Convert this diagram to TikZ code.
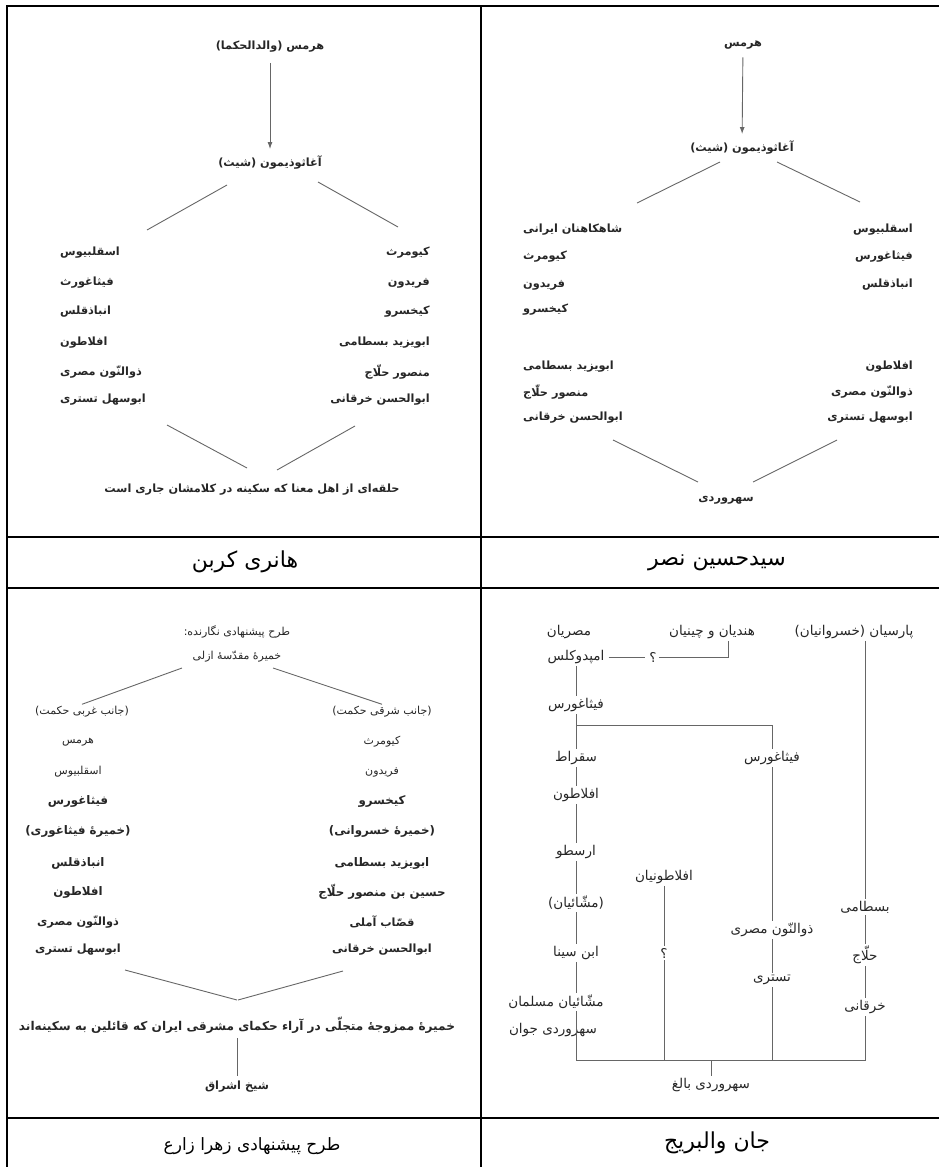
\documentclass[tikz,border=0pt]{standalone}
\usepackage{fontspec}
\usetikzlibrary{calc, arrows, arrows.meta, positioning}
\newfontfamily\arabicfont[Script=Arabic]{DejaVu Sans}
\TeXXeTstate=1
\newcommand{\fatext}[1]{{\arabicfont\beginR #1\endR}}

\begin{document}
\begin{tikzpicture}[x=1pt, y=-1pt,
  txt/.style={inner sep=2pt, text=black!85, font=\fontsize{13.5}{15}\selectfont},
  bd/.style={txt, font=\fontsize{11.3}{13}\selectfont\bfseries},
  sm/.style={txt, font=\fontsize{11}{13}\selectfont},
  big/.style={txt, font=\fontsize{11.8}{14}\selectfont\bfseries},
  captxt/.style={inner sep=2pt, text=black, font=\fontsize{22}{26}\selectfont},
  ln/.style={draw=black!60, line width=0.9pt},
  rule/.style={line width=1.6pt}]
  \useasboundingbox (0,0) rectangle (939,1167);

  % table
  \draw[rule] (7,1167) -- (7,6) -- (939,6);
  \draw[rule] (481,6) -- (481,1167);
  \draw[rule] (7,537) -- (939,537);
  \draw[rule] (7,588) -- (939,588);
  \draw[rule] (7,1118) -- (939,1118);

  % hanri korban
  \node[bd] (hermA) at (270,47) {\fatext{هرمس (والدالحکما)}};
  \node[bd] (aghaA) at (270,162) {\fatext{آغاثوذیمون (شیث)}};
  \draw[ln, -{Latex[length=7pt,width=5pt]}, shorten <=8pt, shorten >=4pt] (hermA) -- (aghaA);
  \coordinate (A-l) at (147,230);
  \coordinate (A-r) at (398,227);
  \draw[ln] ($(aghaA)+(-43,23)$) -- (A-l);
  \draw[ln] ($(aghaA)+(48,20)$) -- (A-r);

  \node[bd, anchor=west] (aL1) at (58,253) {\fatext{اسقلبیوس}};
  \node[bd, anchor=west] (aL2) at (58,283) {\fatext{فیثاغورث}};
  \node[bd, anchor=west] (aL3) at (58,312) {\fatext{انباذقلس}};
  \node[bd, anchor=west] (aL4) at (58,343) {\fatext{افلاطون}};
  \node[bd, anchor=west] (aL5) at (58,372) {\fatext{ذوالنّون مصری}};
  \node[bd, anchor=west] (aL6) at (58,400) {\fatext{ابوسهل تستری}};

  \node[bd, anchor=east] (aR1) at (432,253) {\fatext{کیومرث}};
  \node[bd, anchor=east] (aR2) at (432,283) {\fatext{فریدون}};
  \node[bd, anchor=east] (aR3) at (432,312) {\fatext{کیخسرو}};
  \node[bd, anchor=east] (aR4) at (432,343) {\fatext{ابویزید بسطامی}};
  \node[bd, anchor=east] (aR5) at (432,372) {\fatext{منصور حلّاج}};
  \node[bd, anchor=east] (aR6) at (432,400) {\fatext{ابوالحسن خرقانی}};

  \node[bd] (ringA) at (252,490) {\fatext{حلقه‌ای از اهل معنا که سکینه در کلامشان جاری است}};
  \coordinate (A-bl) at (167,425);
  \coordinate (A-br) at (355,426);
  \draw[ln] (A-bl) -- ($(ringA)+(-5,-22)$);
  \draw[ln] (A-br) -- ($(ringA)+(25,-20)$);
  \node[captxt] (capA) at (245,562) {\fatext{هانری کربن}};

  % seyyed hossein nasr
  \node[bd] (hermB) at (743,45) {\fatext{هرمس}};
  \node[bd] (aghaB) at (742,147) {\fatext{آغاثوذیمون (شیث)}};
  \draw[ln, -{Latex[length=7pt,width=5pt]}, shorten <=6pt, shorten >=4pt] (hermB) -- (aghaB);
  \coordinate (B-l) at (637,203);
  \coordinate (B-r) at (860,202);
  \draw[ln] ($(aghaB)+(-22,15)$) -- (B-l);
  \draw[ln] ($(aghaB)+(35,15)$) -- (B-r);

  \node[bd, anchor=west] (bL1) at (521,230) {\fatext{شاهکاهنان ایرانی}};
  \node[bd, anchor=west] (bL2) at (521,257) {\fatext{کیومرث}};
  \node[bd, anchor=west] (bL3) at (521,285) {\fatext{فریدون}};
  \node[bd, anchor=west] (bL4) at (521,310) {\fatext{کیخسرو}};
  \node[bd, anchor=west] (bL5) at (521,367) {\fatext{ابویزید بسطامی}};
  \node[bd, anchor=west] (bL6) at (521,392) {\fatext{منصور حلّاج}};
  \node[bd, anchor=west] (bL7) at (521,418) {\fatext{ابوالحسن خرقانی}};

  \node[bd, anchor=east] (bR1) at (915,230) {\fatext{اسقلبیوس}};
  \node[bd, anchor=east] (bR2) at (915,257) {\fatext{فیثاغورس}};
  \node[bd, anchor=east] (bR3) at (915,285) {\fatext{انباذقلس}};
  \node[bd, anchor=east] (bR4) at (915,367) {\fatext{افلاطون}};
  \node[bd, anchor=east] (bR5) at (915,392) {\fatext{ذوالنّون مصری}};
  \node[bd, anchor=east] (bR6) at (915,418) {\fatext{ابوسهل تستری}};

  \node[bd] (suhB) at (726,500) {\fatext{سهروردی}};
  \coordinate (B-bl) at (613,440);
  \coordinate (B-br) at (837,440);
  \draw[ln] (B-bl) -- ($(suhB)+(-28,-18)$);
  \draw[ln] (B-br) -- ($(suhB)+(27,-18)$);
  \node[captxt] (capB) at (717,563) {\fatext{سیدحسین نصر}};

  % zahra zare
  \node[sm] (titleC) at (237,632) {\fatext{طرح پیشنهادی نگارنده:}};
  \node[sm] (khamC) at (237,657) {\fatext{خمیرهٔ مقدّسهٔ ازلی}};
  \node[sm] (westC) at (82,712) {\fatext{(جانب غربی حکمت)}};
  \node[sm] (eastC) at (382,712) {\fatext{(جانب شرقی حکمت)}};
  \draw[ln] ($(khamC)+(-55,11)$) -- (westC.north);
  \draw[ln] ($(khamC)+(36,11)$) -- (eastC.north);

  \node[sm] (cL1) at (78,742) {\fatext{هرمس}};
  \node[sm] (cL2) at (78,772) {\fatext{اسقلبیوس}};
  \node[big] (cL3) at (78,801) {\fatext{فیثاغورس}};
  \node[big] (cL4) at (78,831) {\fatext{(خمیرهٔ فیثاغوری)}};
  \node[big] (cL5) at (78,863) {\fatext{انباذقلس}};
  \node[big] (cL6) at (78,892) {\fatext{افلاطون}};
  \node[bd] (cL7) at (78,922) {\fatext{ذوالنّون مصری}};
  \node[bd] (cL8) at (78,950) {\fatext{ابوسهل تستری}};

  \node[sm] (cR1) at (382,742) {\fatext{کیومرث}};
  \node[sm] (cR2) at (382,772) {\fatext{فریدون}};
  \node[big] (cR3) at (382,801) {\fatext{کیخسرو}};
  \node[big] (cR4) at (382,831) {\fatext{(خمیرهٔ خسروانی)}};
  \node[big] (cR5) at (382,863) {\fatext{ابویزید بسطامی}};
  \node[big] (cR6) at (382,892) {\fatext{حسین بن منصور حلّاج}};
  \node[bd] (cR7) at (382,922) {\fatext{قصّاب آملی}};
  \node[bd] (cR8) at (382,950) {\fatext{ابوالحسن خرقانی}};

  \node[bd, font=\fontsize{12.1}{14}\selectfont\bfseries] (mixC) at (237,1025) {\fatext{خمیرهٔ ممزوجهٔ متجلّی در آراء حکمای مشرقی ایران که قائلین به سکینه‌اند}};
  \coordinate (C-bl) at (125,970);
  \coordinate (C-br) at (343,971);
  \draw[ln] (C-bl) -- ($(mixC)+(0,-25)$);
  \draw[ln] (C-br) -- ($(mixC)+(1,-25)$);
  \node[bd] (sheikhC) at (237,1087) {\fatext{شیخ اشراق}};
  \draw[ln, shorten <=3pt, shorten >=3pt] (mixC) -- (sheikhC);
  \node[captxt, font=\fontsize{17}{21}\selectfont] (capC) at (252,1146) {\fatext{طرح پیشنهادی زهرا زارع}};

  % john walbridge
  \node[txt] (mesr) at (569,632) {\fatext{مصریان}};
  \node[txt] (hend) at (712,632) {\fatext{هندیان و چینیان}};
  \node[txt] (pars) at (854,632) {\fatext{پارسیان (خسروانیان)}};
  \node[txt] (emped) at (576,657) {\fatext{امپدوکلس}};
  \node[txt] (q1) at (653,657) {\fatext{؟}};
  \node[txt] (pyth1) at (576,705) {\fatext{فیثاغورس}};
  \node[txt] (soqrat) at (576,758) {\fatext{سقراط}};
  \node[txt] (aflat) at (576,795) {\fatext{افلاطون}};
  \node[txt] (arast) at (576,852) {\fatext{ارسطو}};
  \node[txt] (mashsh) at (576,903) {\fatext{(مشّائیان)}};
  \node[txt] (ibns) at (576,953) {\fatext{ابن سینا}};
  \node[txt] (mmoslem) at (556,1002) {\fatext{مشّائیان مسلمان}};
  \node[txt] (suhjav) at (553,1030) {\fatext{سهروردی جوان}};
  \node[txt] (pyth2) at (772,758) {\fatext{فیثاغورس}};
  \node[txt] (zun) at (772,930) {\fatext{ذوالنّون مصری}};
  \node[txt] (tust) at (772,980) {\fatext{تستری}};
  \node[txt] (aflatun) at (664,877) {\fatext{افلاطونیان}};
  \node[txt] (q2) at (664,953) {\fatext{؟}};
  \node[txt] (bast) at (865,907) {\fatext{بسطامی}};
  \node[txt] (hall) at (865,955) {\fatext{حلّاج}};
  \node[txt] (khar) at (865,1007) {\fatext{خرقانی}};
  \node[txt] (balegh) at (711,1085) {\fatext{سهروردی بالغ}};
  \coordinate (fork) at (576,725);
  \coordinate (bus) at (711,1060);

  \draw[ln, shorten <=2pt, shorten >=2pt] (emped) -- (q1);
  \draw[ln] (q1) -| ([xshift=16pt]hend.south);
  \draw[ln] (emped) -- (pyth1);
  \draw[ln] (pyth1) -- (soqrat);
  \draw[ln] (fork) -| (pyth2);
  \draw[ln] (soqrat) -- (aflat);
  \draw[ln] (aflat) -- (arast);
  \draw[ln] (arast) -- (mashsh);
  \draw[ln] (mashsh) -- (ibns);
  \draw[ln] (ibns) -- (ibns |- mmoslem.north);
  \draw[ln] (ibns |- mmoslem.south) |- (bus) -| (khar);
  \draw[ln] (aflatun) -- (q2);
  \draw[ln] (q2) -- (q2 |- bus);
  \draw[ln] (pyth2) -- (zun);
  \draw[ln] (zun) -- (tust);
  \draw[ln] (tust) -- (tust |- bus);
  \draw[ln] (pars.south -| bast) -- (bast);
  \draw[ln] (bast) -- (hall);
  \draw[ln] (hall) -- (khar);
  \draw[ln] (bus) -- (balegh);
  \node[captxt] (capD) at (717,1143) {\fatext{جان والبریج}};
\end{tikzpicture}
\end{document}
